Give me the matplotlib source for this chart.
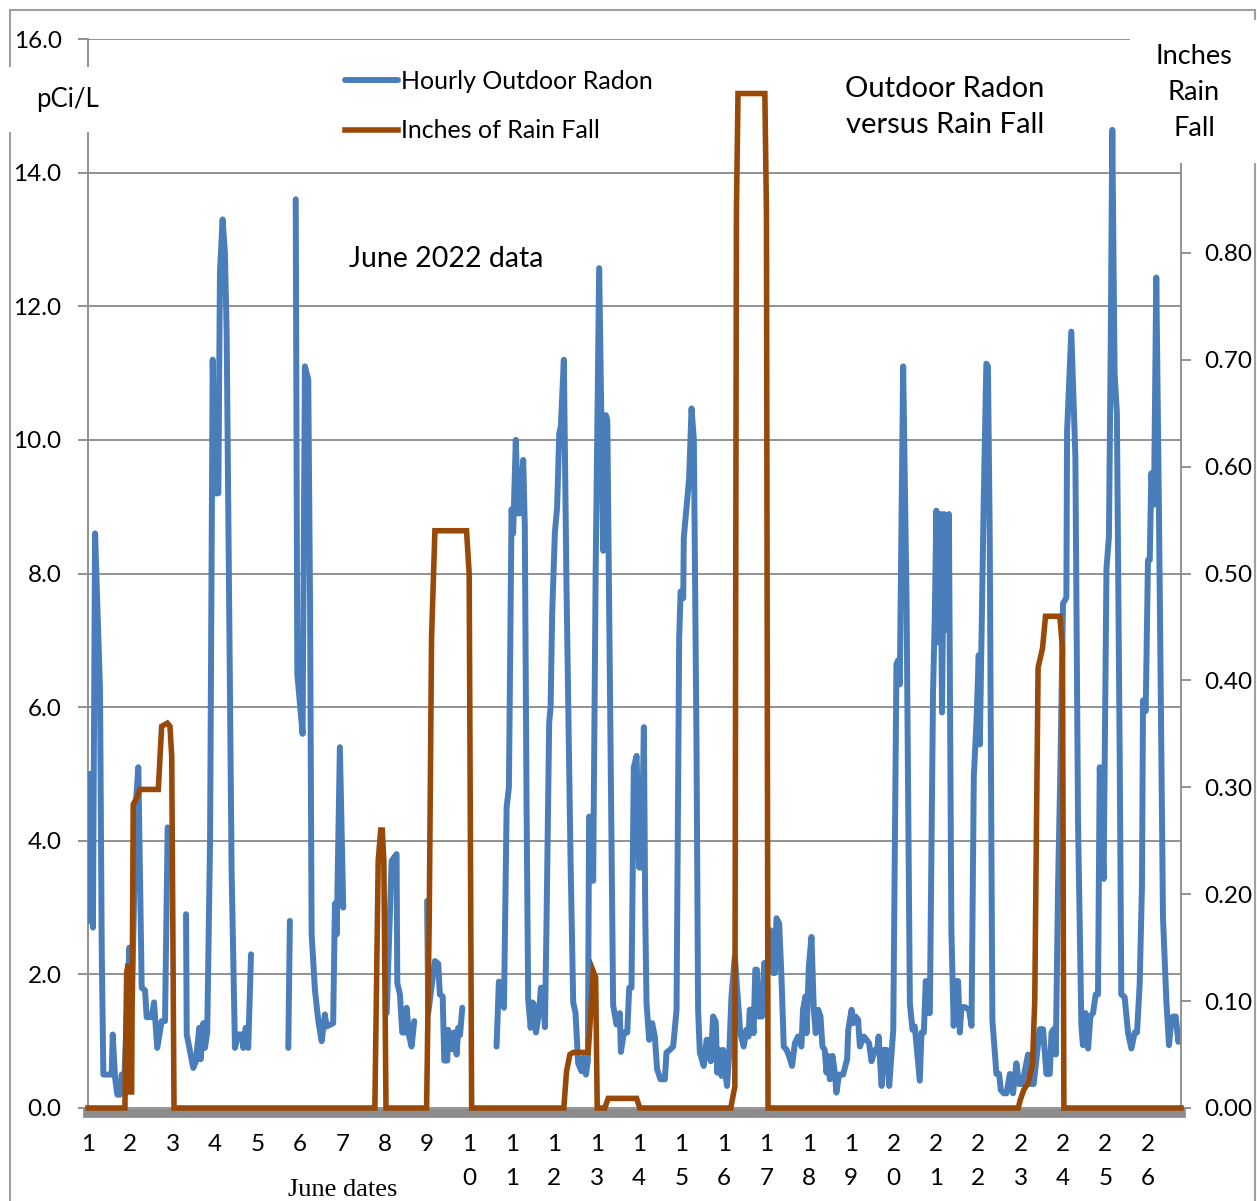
import numpy as np
import matplotlib
matplotlib.use("Agg")
import matplotlib.pyplot as plt
from matplotlib.patches import Rectangle

plt.rcParams["font.family"] = ["Lato", "DejaVu Sans"]

# hours since June 1 00:00, radon in pCi/L (nan = missing hours)
radon_hour = [
    0.0, 0.8, 1.7, 2.8, 4.0, 6.8, 7.8, 8.7, 13.4, 14.0, 15.3, 16.6, 18.1, 19.1,
    20.4, 23.4, 24.9, 27.2, 28.5, 30.4, 32.3, 33.2, 36.1, 37.4, 39.2, 41.7,
    43.6, 45.1, 50.0,
    55.5, 55.9, 59.6, 61.1, 63.0, 63.8, 65.3, 66.2, 67.5, 69.1, 70.6, 71.9,
    73.8, 74.7, 76.2, 77.5, 78.5, 81.3, 83.2, 85.1, 87.3, 87.9, 89.3, 90.7,
    92.3, 100.0,
    113.4, 114.3, 116.0,
    117.6, 118.5, 121.5, 122.8, 124.7, 125.7, 126.6, 128.5, 130.4, 132.3,
    134.1, 135.1, 138.8, 139.8, 140.8, 142.6, 144.5, 150.0,
    169.1, 171.9, 174.7, 175.1, 176.6, 177.9, 179.4, 180.4, 181.7, 183.2,
    184.7, 188.0,
    192.0, 192.6, 196.4, 198.3, 199.2, 200.8, 201.7, 203.4, 203.9, 205.9,
    207.2, 208.7, 209.6, 210.6, 211.9, 220.0,
    231.3, 232.6, 234.5, 235.5, 237.0, 238.3, 239.8, 240.7, 242.2, 243.5,
    244.5, 246.4, 247.3, 248.3, 249.2, 250.6, 251.7, 252.4, 253.6, 255.3,
    256.4, 257.4, 258.7, 259.6, 261.1, 261.9, 262.8, 264.3, 265.6, 266.8,
    267.7, 269.4, 270.9, 273.2, 274.7, 276.0, 277.5, 279.4, 280.3, 281.9,
    283.0, 283.7, 285.1, 286.0, 287.4, 289.4, 291.7, 293.2, 294.0, 297.3,
    299.2, 301.1, 301.7, 303.4, 305.3, 306.4, 307.7, 309.0, 310.6, 312.0,
    313.4, 314.7, 315.5, 316.2, 317.7, 319.4, 320.9, 322.2, 324.1, 326.6,
    327.5, 329.4, 331.3, 333.2, 334.7, 335.5, 337.0, 337.3, 338.9, 340.3,
    341.7, 343.0, 344.5, 345.4, 346.4, 348.6, 350.2, 351.5, 352.6, 353.9,
    355.4, 356.2, 357.3, 358.7, 359.6, 360.5, 361.8, 363.0, 364.3, 366.2,
    369.3, 371.2, 372.7, 374.0, 374.6, 375.9, 376.8, 377.8, 378.7, 379.6,
    381.6, 382.8, 384.7, 386.4, 387.9, 388.9, 389.8, 391.3, 392.6, 393.9,
    395.5, 396.9, 398.6, 400.2, 402.0, 403.9, 404.8, 406.2, 406.8, 408.1,
    409.6, 410.9, 412.0, 413.4, 414.7, 415.8, 417.1, 418.1, 419.0, 420.0,
    421.5, 422.8, 423.7, 425.2, 427.5, 429.8, 430.4, 432.3, 433.2, 434.5,
    436.0, 437.0, 439.2, 440.8, 442.2, 443.6, 445.5, 446.8, 447.6, 449.3,
    450.6, 452.1, 453.6, 455.9, 457.7, 458.6, 459.6, 461.5, 463.4, 465.3,
    466.8, 468.1, 469.4, 470.9, 471.9, 473.2, 474.3, 475.6, 476.6, 478.4,
    479.4, 480.3, 481.6, 482.6, 483.5, 484.6, 486.0, 487.4, 488.8, 490.1,
    491.2, 492.6, 493.6, 494.5, 496.4, 498.8, 500.2, 501.5, 503.0, 504.3,
    504.9, 507.1, 508.6, 509.5, 510.5, 512.0, 514.3, 515.8, 516.8, 518.5,
    520.0, 521.9, 523.7, 525.6, 527.1, 529.0, 530.4, 532.2, 533.6, 535.4,
    537.0, 538.8, 540.7, 542.6, 544.5, 545.5, 546.7, 547.9, 549.2, 550.5,
    552.0, 553.9, 554.3, 556.7, 559.0, 560.5, 562.4, 563.3, 564.8, 566.2,
    567.5, 569.0, 570.5, 571.8, 572.8, 575.0, 576.6, 578.0, 579.0, 579.9,
    581.2, 582.5, 584.1, 585.0, 586.9, 588.8, 590.7, 592.6, 593.9, 595.4,
    596.7, 597.3, 598.8, 600.1, 601.1, 602.0, 603.5, 604.8, 606.3, 608.6,
    610.5, 612.0, 613.4, 614.3, 615.8, 617.3, 618.8,
]
radon_pci = [
    5.0, 2.8, 5.0, 2.7, 8.6, 6.25, 2.3, 0.5, 0.5, 1.1, 0.46, 0.2, 0.2, 0.5,
    0.3, 2.4, 1.6, 4.6, 5.1, 1.8, 1.76, 1.36, 1.36, 1.58, 0.9, 1.3,
    1.3, 4.2, np.nan,
    2.9, 1.1, 0.6, 0.7, 1.2, 0.73, 1.27, 0.9, 1.13, 4.0, 11.2, 9.2,
    9.2, 12.5, 13.3, 12.8, 11.6, 3.55, 0.9, 1.1, 1.1, 0.9, 1.2, 0.9,
    2.3, np.nan,
    0.9, 2.8, np.nan,
    13.6, 6.5, 5.6, 11.1, 10.9, 7.6, 2.6, 1.76, 1.3, 1.0,
    1.4, 1.22, 1.27, 3.06, 2.6, 5.4, 3.0, np.nan,
    1.42, 3.7, 3.8, 1.87, 1.7, 1.13, 1.13, 1.5, 1.09, 0.92,
    1.3, np.nan,
    3.1, 1.42, 2.2, 2.16, 1.7, 1.67, 0.71, 0.71, 1.17, 0.88,
    1.13, 0.8, 1.2, 1.09, 1.5, np.nan,
    0.92, 1.89, 1.87, 1.5, 4.5, 4.8, 8.96, 8.6, 10.0, 8.9,
    8.9, 9.7, 8.7, 4.5, 1.63, 1.2, 1.58, 1.54, 1.13, 1.42,
    1.8, 1.8, 1.21, 2.79, 5.77, 6.0, 7.4, 8.6, 9.0, 10.1,
    10.2, 11.2, 7.8, 3.7, 1.58, 1.42, 0.67, 0.55, 0.75, 0.5,
    0.71, 4.36, 4.36, 3.4, 8.0, 12.57, 8.34, 10.37, 10.3, 1.54,
    1.25, 1.42, 0.84, 1.13, 1.13, 1.8, 1.8, 5.1, 5.27, 3.6,
    3.6, 5.7, 2.87, 1.57, 1.02, 1.27, 1.07, 0.58, 0.43, 0.43,
    0.83, 0.87, 0.92, 1.47, 7.04, 7.73, 7.63, 8.53, 9.0, 9.42,
    10.47, 10.0, 5.45, 1.47, 0.83, 0.63, 1.02, 1.02, 0.7, 1.37,
    1.29, 0.53, 0.87, 0.48, 0.87, 0.58, 0.33, 0.8, 1.67, 2.27,
    1.12, 0.92, 1.17, 1.07, 1.47, 1.47, 1.12, 2.07, 2.07, 1.37,
    1.37, 2.17, 2.17, 2.66, 2.02, 2.02, 2.84, 2.76, 1.97, 0.92,
    0.87, 0.78, 0.63, 0.97, 1.07, 0.92, 1.47, 1.67, 1.12, 2.12,
    2.56, 1.47, 1.12, 1.47, 1.37, 0.92, 0.87, 0.53, 0.78, 0.43,
    0.78, 0.53, 0.23, 0.5, 0.5, 0.73, 1.17, 1.47, 1.27, 1.37,
    1.32, 0.92, 1.07, 1.02, 0.97, 0.7, 0.87, 0.87, 1.07, 0.33,
    0.87, 0.87, 0.33, 1.17, 6.64, 6.7, 6.34, 11.1, 7.63, 1.57,
    1.17, 1.22, 0.84, 0.41, 1.13, 1.13, 1.9, 1.42, 1.42, 6.2,
    7.35, 8.94, 6.97, 8.89, 5.92, 8.89, 7.16, 8.89, 2.66, 1.23,
    1.9, 1.9, 1.13, 1.51, 1.51, 1.47, 1.23, 4.96, 5.78, 6.78,
    5.44, 9.08, 11.14, 11.1, 8.6, 1.32, 0.51, 0.51, 0.27, 0.22,
    0.22, 0.51, 0.22, 0.67, 0.36, 0.36, 0.56, 0.8, 0.36, 0.36,
    0.75, 1.18, 1.18, 0.51, 0.51, 1.13, 1.18, 0.8, 3.33, 5.06,
    7.55, 7.64, 10.13, 11.62, 9.75, 4.29, 1.23, 0.94, 1.42, 0.89,
    1.37, 1.42, 1.7, 1.7, 5.1, 3.43, 8.07, 8.55, 11.38, 14.64,
    11.0, 10.4, 5.25, 1.7, 1.66, 1.13, 0.89, 1.13, 1.13, 1.85,
    3.33, 6.1, 5.94, 8.2, 8.2, 9.5, 9.03, 12.43, 8.98, 2.85,
    1.61, 0.94, 1.32, 1.37, 1.37, 0.99, 1.13,
]

# hours since June 1 00:00, cumulative rain in inches
rain_hour = [
    0.0, 20.9, 21.9, 22.8, 23.8, 24.7, 25.6, 27.6, 29.4, 39.8, 40.8, 41.7,
    44.9, 46.4, 47.4, 48.7, 162.4, 164.3, 165.7, 166.6, 167.5, 168.7, 191.7,
    193.2, 194.5, 196.4, 214.3, 215.8, 217.2, 269.4, 270.9, 272.8, 274.7,
    283.2, 284.5, 286.0, 287.4, 288.3, 292.6, 294.5, 310.6, 312.4, 363.9,
    366.2, 367.1, 368.0, 383.2, 384.1, 385.0, 526.6, 527.9, 529.8, 532.2,
    534.7, 536.0, 537.0, 537.9, 540.4, 542.1, 550.2, 551.7, 552.5, 618.8,
]
rain_inches = [
    0.0, 0.0, 0.127, 0.135, 0.015, 0.015, 0.284, 0.29, 0.298, 0.298, 0.329,
    0.357, 0.36, 0.357, 0.329, 0.0, 0.0, 0.231, 0.26, 0.26, 0.231, 0.0, 0.0,
    0.179, 0.44, 0.54, 0.54, 0.50, 0.0, 0.0, 0.034, 0.05, 0.052,
    0.052, 0.086, 0.128, 0.122, 0.0, 0.0, 0.009, 0.009, 0.0, 0.0,
    0.02, 0.838, 0.949, 0.949, 0.838, 0.0, 0.0, 0.008, 0.017, 0.023,
    0.041, 0.1, 0.268, 0.412, 0.43, 0.46, 0.46, 0.43, 0.0, 0.0,
]

june_days = list(range(1, 27))
radon_ticks = [0, 2, 4, 6, 8, 10, 12, 14, 16]
rain_ticks = [0.0, 0.1, 0.2, 0.3, 0.4, 0.5, 0.6, 0.7, 0.8]

blue = "#4a7ebb"
brown = "#984807"
grey = "#898989"

W, H = 1257, 1201
fig = plt.figure(figsize=(W / 100, H / 100), dpi=100)
ax = fig.add_axes([88 / W, 1 - 1108 / H, (1181 - 88) / W, (1108 - 39) / H])
ax2 = ax.twinx()

ax.axhline(-0.07, color="#8c8c8c", lw=7, clip_on=False, zorder=1)
radon_line, = ax.plot(radon_hour, radon_pci, color=blue, lw=4.3,
                      solid_capstyle="round", solid_joinstyle="round",
                      zorder=3, label="Hourly Outdoor Radon")
rain_line, = ax2.plot(rain_hour, rain_inches, color=brown, lw=4.0,
                      solid_joinstyle="miter", clip_on=False, zorder=3,
                      label="Inches of Rain Fall")

ax.set_xlim(0, 618.8)
ax.set_ylim(0, 16)
ax2.set_ylim(0, 1.0)

ax.set_yticks(radon_ticks)
ax.set_yticklabels([f"{v:.1f}" for v in radon_ticks])
ax2.set_yticks(rain_ticks)
ax2.set_yticklabels([f"{v:.2f}" for v in rain_ticks])
ax.set_xticks([(d - 1) * 24 for d in june_days])
ax.set_xticklabels(["\n".join(str(d)) for d in june_days], linespacing=1.75)

ax.grid(axis="y", color=grey, lw=1.3)
ax.set_axisbelow(True)
for a in (ax, ax2):
    for side in ("top", "bottom"):
        a.spines[side].set_visible(False)
ax.spines["right"].set_visible(False)
ax.spines["left"].set_color(grey)
ax.spines["left"].set_linewidth(1.3)
ax2.spines["left"].set_visible(False)
ax2.spines["right"].set_color(grey)
ax2.spines["right"].set_linewidth(1.3)

ax.tick_params(axis="y", direction="out", length=7, width=1.3, color=grey,
               labelsize=17.5, pad=12)
ax2.tick_params(axis="y", direction="out", length=7, width=1.3, color=grey,
                labelsize=17.5, pad=10)
ax.tick_params(axis="x", length=0, labelsize=17.5, pad=19)

ax.set_zorder(ax2.get_zorder() + 1)
ax.patch.set_visible(False)
ax2.set_zorder(ax.get_zorder() + 1)

ax.text(0.239, 0.794, "June 2022 data", transform=ax.transAxes,
        fontsize=20.5, ha="left", va="center")

leg = ax.legend(handles=[radon_line, rain_line], loc="upper left",
                bbox_to_anchor=(345 / W, 1 - 70 / H), bbox_transform=fig.transFigure,
                frameon=False, fontsize=18, handlelength=2.1, handletextpad=0.15,
                labelspacing=1.05, borderpad=0, borderaxespad=0)

# outer chart frame and the white label boxes that cut into it
fig.add_artist(Rectangle((10 / W, -0.02), (1255 - 10) / W, 1 - 10 / H + 0.02,
                         transform=fig.transFigure, fill=False,
                         edgecolor="#a0a0a0", lw=1.5, zorder=5))
fig.add_artist(Rectangle((4 / W, 1 - 132 / H), 104 / W, 65 / H,
                         transform=fig.transFigure, facecolor="white",
                         edgecolor="none", zorder=6))
fig.add_artist(Rectangle((1130 / W, 1 - 163 / H), 130 / W, 143 / H,
                         transform=fig.transFigure, facecolor="white",
                         edgecolor="none", zorder=6))

fig.text(67 / W, 1 - 100 / H, "pCi/L", fontsize=18.5, ha="center", va="center", zorder=7)
fig.text(1194 / W, 1 - 93 / H, "Inches\nRain\nFall", fontsize=19.5, ha="center",
         va="center", linespacing=1.55, zorder=7)
fig.text(945 / W, 1 - 107 / H, "Outdoor Radon\nversus Rain Fall", fontsize=21,
         ha="center", va="center", linespacing=1.5, zorder=7)
fig.text(343 / W, 1 - 1190 / H, "June dates", fontsize=19, ha="center",
         va="center", family=["Liberation Serif", "DejaVu Serif"], zorder=7)

fig.savefig("out.png", dpi=100)
